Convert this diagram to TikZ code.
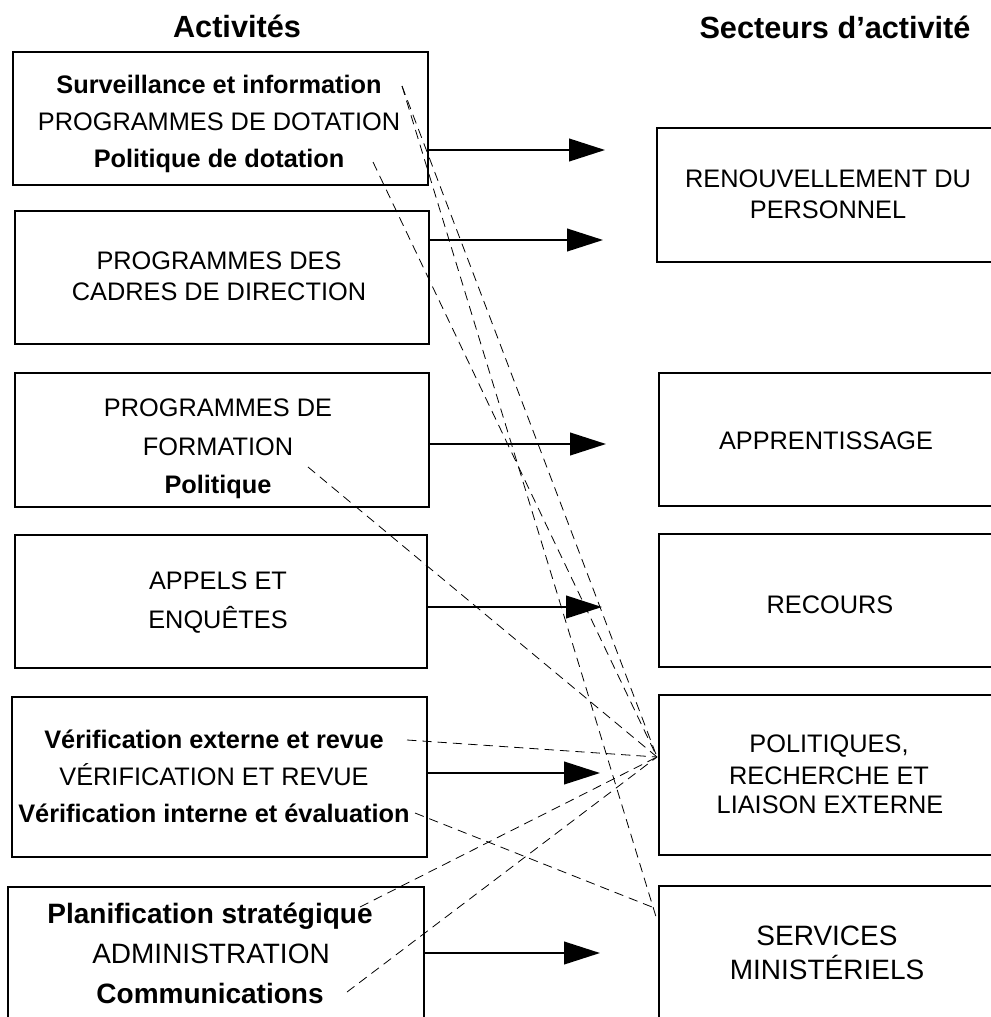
\documentclass[tikz,border=0pt]{standalone}
\usepackage{fontspec}
\setmainfont{Liberation Sans}
\usetikzlibrary{arrows.meta,fit}

\tikzset{
    box/.style={draw, line width=1.5pt, inner sep=0pt},
    txt/.style={anchor=base, inner sep=0pt, font=\fontsize{19}{23}\selectfont},
    btxt/.style={txt, font=\bfseries\fontsize{19}{23}\selectfont},
    bigtxt/.style={txt, font=\fontsize{21}{25}\selectfont},
    bigbtxt/.style={txt, font=\bfseries\fontsize{21}{25}\selectfont},
    heading/.style={txt, font=\bfseries\fontsize{23}{28}\selectfont},
    arr/.style={line width=1.5pt, -{Triangle[length=27pt,width=17pt]}},
    link/.style={line width=0.6pt, dash pattern=on 7pt off 4.5pt},
}

\begin{document}
\begin{tikzpicture}[x=0.75pt, y=-0.75pt]
    \clip (0,0) rectangle (991,1017);

    % First the two headings
    \node[heading] (hact) at (237,37) {Activités};
    \node[heading] (hsec) at (835,38) {Secteurs d’activité};

    % Now the activity boxes on the left
    \node[box, fit={(13,52) (428,185)}] (dotation) {};
    \node[box, fit={(15,211) (429,344)}] (cadres) {};
    \node[box, fit={(15,373) (429,507)}] (formation) {};
    \node[box, fit={(15,535) (427,668)}] (appels) {};
    \node[box, fit={(12,697) (427,857)}] (verif) {};
    \node[box, fit={(8,887) (424,1030)}] (admin) {};

    \node[btxt] (survinfo) at (219,93) {Surveillance et information};
    \node[txt] (progdot) at (219,130) {PROGRAMMES DE DOTATION};
    \node[btxt] (poldot) at (219,167) {Politique de dotation};
    \node[txt] (progcad) at (219,269) {PROGRAMMES DES};
    \node[txt] (cadrdir) at (219,300) {CADRES DE DIRECTION};
    \node[txt] (progform) at (218,416) {PROGRAMMES DE};
    \node[txt] (formtxt) at (218,455) {FORMATION};
    \node[btxt] (polform) at (218,493) {Politique};
    \node[txt] (appelset) at (218,589) {APPELS ET};
    \node[txt] (enquetes) at (218,628) {ENQUÊTES};
    \node[btxt] (vext) at (214,748) {Vérification externe et revue};
    \node[txt] (vrev) at (214,785) {VÉRIFICATION ET REVUE};
    \node[btxt] (vint) at (214,822) {Vérification interne et évaluation};
    \node[bigbtxt] (planif) at (210,923) {Planification stratégique};
    \node[bigtxt] (admintxt) at (211,963) {ADMINISTRATION};
    \node[bigbtxt] (comm) at (210,1003) {Communications};

    % Now the sector boxes on the right
    \node[box, fit={(657,128) (1010,262)}] (renouv) {};
    \node[box, fit={(659,373) (1010,506)}] (apprent) {};
    \node[box, fit={(659,534) (1010,667)}] (recours) {};
    \node[box, fit={(659,695) (1010,855)}] (polit) {};
    \node[box, fit={(659,886) (1010,1030)}] (services) {};

    \node[txt] (renouvtxt) at (828,187) {RENOUVELLEMENT DU};
    \node[txt] (perstxt) at (828,218) {PERSONNEL};
    \node[txt] (apprtxt) at (826,449) {APPRENTISSAGE};
    \node[txt] (rectxt) at (830,613) {RECOURS};
    \node[txt] (poltxt) at (829,752) {POLITIQUES,};
    \node[txt] (rechtxt) at (829,784) {RECHERCHE ET};
    \node[txt] (liaitxt) at (830,813) {LIAISON EXTERNE};
    \node[bigtxt] (servtxt) at (827,945) {SERVICES};
    \node[bigtxt] (minitxt) at (827,979) {MINISTÉRIELS};

    % Now the solid arrows
    \coordinate (a1) at (605,150);
    \coordinate (a2) at (603,240);
    \coordinate (a3) at (606,444);
    \coordinate (a4) at (602,607);
    \coordinate (a5) at (600,773);
    \coordinate (a6) at (600,953);
    \draw[arr] (dotation.east |- a1) -- (a1);
    \draw[arr] (cadres.east |- a2) -- (a2);
    \draw[arr] (formation.east |- a3) -- (a3);
    \draw[arr] (appels.east |- a4) -- (a4);
    \draw[arr] (verif.east |- a5) -- (a5);
    \draw[arr] (admin.east |- a6) -- (a6);

    % Now the dashed links
    \coordinate (srcsurv) at (402,86);
    \coordinate (srcdot) at (373,162);
    \coordinate (srcform) at (308,467);
    \coordinate (srcext) at (407,740);
    \coordinate (srcint) at (415,813);
    \coordinate (srcplan) at (360,907);
    \coordinate (srccomm) at (347,992);
    \coordinate (polin) at (657,757);
    \coordinate (servin) at (652,907);
    \coordinate (servtop) at (657,920);
    \draw[link] (srcsurv) -- (servtop);
    \draw[link] (srcsurv) -- (polin);
    \draw[link] (srcdot) -- (polin);
    \draw[link] (srcform) -- (polin);
    \draw[link] (srcext) -- (polin);
    \draw[link] (srcint) -- (servin);
    \draw[link] (srcplan) -- (polin);
    \draw[link] (srccomm) -- (polin);

\end{tikzpicture}
\end{document}
